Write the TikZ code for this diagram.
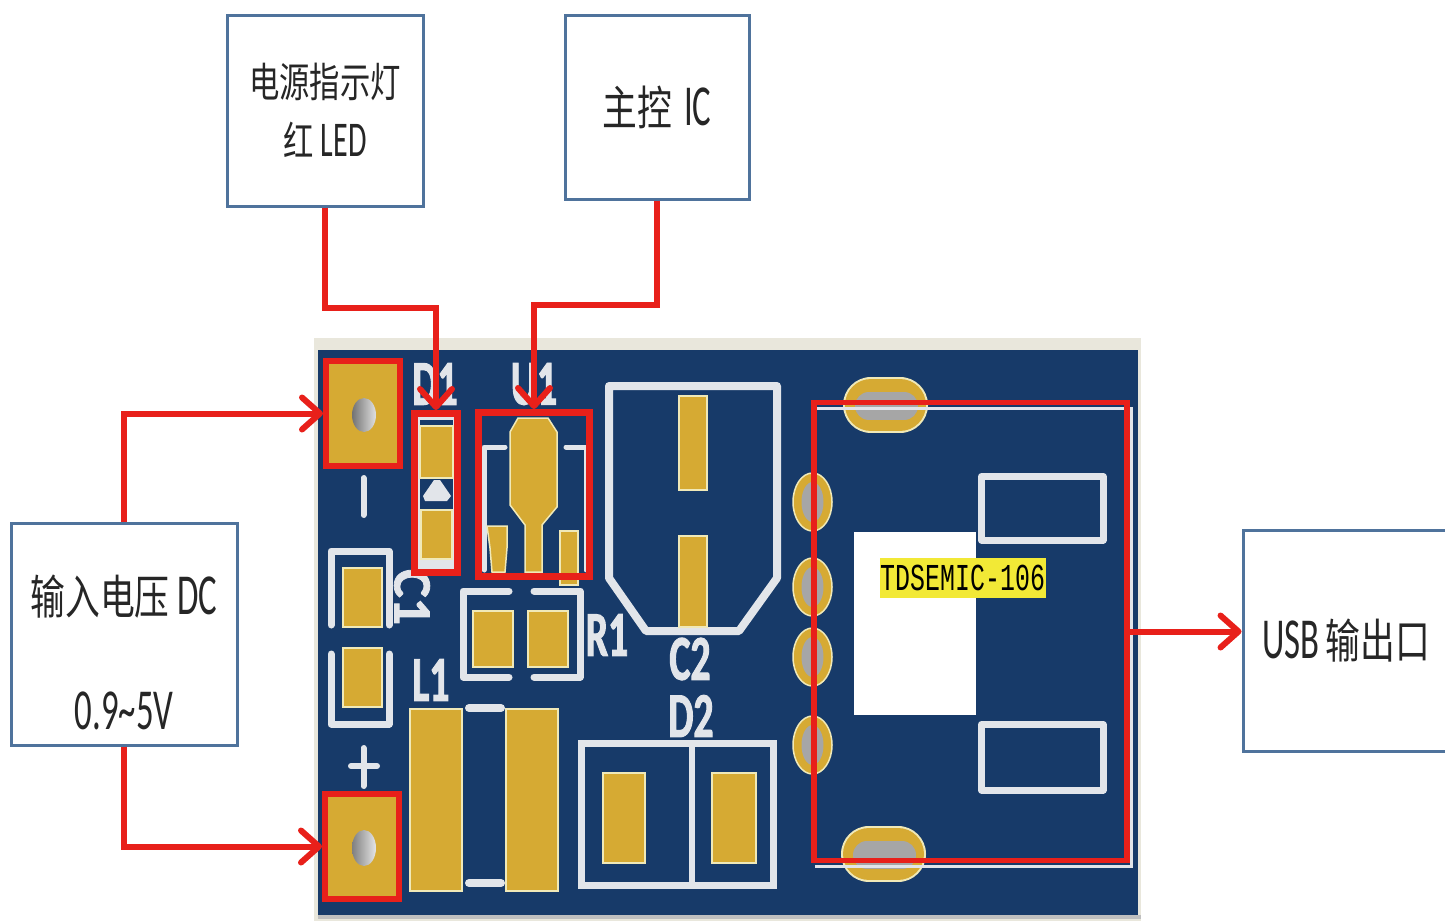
\documentclass[tikz,border=0pt]{standalone}
\usepackage{fontspec}
\usetikzlibrary{arrows.meta}
\newfontfamily\cjkf[FakeStretch=0.74]{Noto Sans CJK SC}
\newfontfamily\latf[FakeStretch=0.6]{Carlito}
\newfontfamily\silkf[FakeStretch=0.62,FakeBold=1.5]{Carlito Bold}
\newfontfamily\silkw[FakeBold=1.5]{Carlito Bold}
\newfontfamily\monof[FakeStretch=0.655]{Liberation Mono}
\definecolor{pcb}{HTML}{173A69}
\definecolor{gold}{HTML}{D6AA33}
\definecolor{silk}{HTML}{E2E5EA}
\definecolor{cream}{HTML}{F0E9B8}
\definecolor{redline}{HTML}{E8201A}
\definecolor{boxline}{HTML}{4F739C}
\definecolor{hl}{HTML}{F2E936}
\definecolor{rim}{HTML}{E9E7DC}
\newcommand{\cjt}[1]{{\cjkf\fontsize{41pt}{48pt}\selectfont #1}}
\newcommand{\lat}[1]{{\latf\fontsize{50pt}{50pt}\selectfont #1}}
\newcommand{\cjb}[1]{{\cjkf\fontsize{47pt}{50pt}\selectfont #1}}
\newcommand{\latb}[1]{{\latf\fontsize{58pt}{58pt}\selectfont #1}}
\tikzset{
  note/.style={draw=boxline,line width=3pt,fill=white,inner sep=0pt,align=center,text=black!85},
  redframe/.style={draw=redline,inner sep=0pt},
  link/.style={draw=redline,line width=6pt},
  arrowlink/.style={link,-{Straight Barb[length=18pt,width=32pt,line width=6pt,round]}},
  silkline/.style={draw=silk,line width=7pt,line cap=round,line join=round},
  silktext/.style={text=silk,inner sep=0pt,font=\silkf\fontsize{64pt}{64pt}\selectfont},
  padfill/.style={fill=gold,draw=cream,line width=1.5pt},
}
\begin{document}
\begin{tikzpicture}[x=1pt,y=-1pt]
\useasboundingbox (0,0) rectangle (1445,921);
\clip (0,0) rectangle (1445,921);
\fill[white] (0,0) rectangle (1445,921);
% board
\fill[rim] (314,338) rectangle (1141,921);
\fill[black!25] (318,915) rectangle (1141,919);
\fill[pcb] (318,350) rectangle (1138,915);
% silk: U1
\draw[silkline,line width=5pt] (505,447) -- (484,447) -- (484,570);
\draw[silkline,line width=5pt] (566,447) -- (586,447) -- (586,570);
% silk: D1
\draw[draw=silk,line width=3pt] (418,418) rectangle (454,568);
\fill[silk] (418,560) rectangle (454,568);
\fill[silk] (434,480) -- (440,480) -- (451,496) -- (447,501) -- (425,501) -- (423,496) -- cycle;
% silk: C1
\draw[silkline] (331,625) -- (331,551) -- (389,551) -- (389,625);
\draw[silkline] (331,654) -- (331,724) -- (389,724) -- (389,654);
% silk: minus and plus
\draw[silkline,line width=6pt] (363.5,478) -- (363.5,515);
\draw[silkline,line width=6pt] (363.5,748) -- (363.5,786);
\draw[silkline,line width=6pt] (351,766) -- (377,766);
% silk: R1
\draw[silkline] (509,591) -- (463,591) -- (463,677) -- (509,677);
\draw[silkline] (534,591) -- (580,591) -- (580,677) -- (534,677);
% silk: L1
\draw[silkline,line width=8pt] (469,708) -- (501,708);
\draw[silkline,line width=8pt] (469,883) -- (501,883);
% silk: C2
\draw[silkline,line width=8pt] (609,386) -- (777,386) -- (777,578) -- (739,631) -- (646,631) -- (609,578) -- cycle;
% silk: D2
\draw[draw=silk,line width=7pt] (581.5,743.5) rectangle (773.5,885.5);
\draw[draw=silk,line width=6pt] (692,743) -- (692,886);
\draw[silkline,line cap=butt] (981.5,476.5) rectangle (1103,540);
\draw[silkline,line cap=butt] (981.5,724.5) rectangle (1103,790);
% silk labels
\node[silktext] (lbD1) at (435,384) {D1};
\node[silktext] (lbU1) at (534,384) {U1};
\node[silktext] (lbR1) at (607,635) {R1};
\node[silktext] (lbC2) at (690,659) {C2};
\node[silktext] (lbD2) at (691,716) {D2};
\node[silktext] (lbL1) at (431,680) {L1};
\node[text=silk,inner sep=0pt,rotate=-90,font=\silkw\fontsize{54pt}{54pt}\selectfont] (lbC1) at (412,597) {C1};
% gold pads
\fill[gold] (326,361) rectangle (400,466);
\fill[gold] (325,794) rectangle (399,899);
\shade[left color=black!55,right color=black!12] (364,415) ellipse (12pt and 17pt);
\shade[left color=black!50,right color=black!10] (364,848) ellipse (12pt and 18pt);
\fill[padfill] (420,426) rectangle (453,478);
\fill[padfill] (421,510) rectangle (452,559);
\fill[padfill] (518,418) -- (548,418) -- (557,432) -- (557,507) -- (542,525) -- (542,572) -- (525,572) -- (525,525) -- (510,505) -- (510,432) -- cycle;
\fill[padfill] (487,526) -- (507,526) -- (507,548) -- (505,572) -- (492,572) -- (490,548) -- cycle;
\fill[padfill] (560,531) rectangle (578,585);
\fill[padfill] (343,568) rectangle (382,627);
\fill[padfill] (343,648) rectangle (382,707);
\fill[padfill] (473,611) rectangle (513,667);
\fill[padfill] (528,611) rectangle (568,667);
\fill[padfill] (410,709) rectangle (462,891);
\fill[padfill] (506,709) rectangle (558,891);
\fill[padfill] (603,773) rectangle (645,863);
\fill[padfill] (712,773) rectangle (756,863);
\fill[padfill] (679,396) rectangle (707,490);
\fill[padfill] (679,536) rectangle (707,627);
% slots and side holes
\draw[cream,line width=56pt,line cap=round] (871,405) -- (900,405);
\draw[gold,line width=52pt,line cap=round] (871,405) -- (900,405);
\draw[black!35,line width=28pt,line cap=round] (869,406) -- (904,406);
\draw[cream,line width=56pt,line cap=round] (869,854) -- (898,854);
\draw[gold,line width=52pt,line cap=round] (869,854) -- (898,854);
\draw[black!35,line width=28pt,line cap=round] (867,855) -- (902,855);
\foreach \hy in {502,587,657,745}{
  \fill[gold,draw=cream,line width=1.5pt] (812.5,\hy) ellipse (19.5pt and 29pt);
  \fill[black!35] (812.5,\hy) ellipse (11pt and 20pt);
}
% silk: connector outline, over the slots
\draw[draw=silk,line width=3pt] (815,408.5) -- (1131,408.5) -- (1131,866) -- (815,866);
% module mark
\fill[white] (853.5,532) rectangle (976,715);
\node[fill=hl,inner sep=0pt,minimum width=166pt,minimum height=40pt,text=black] (mark) at (963,578) {\monof\fontsize{38pt}{38pt}\selectfont TDSEMIC-106};
% red target frames
\node[redframe,line width=6pt,minimum width=74pt,minimum height=105pt] (pad1) at (363,413.5) {};
\node[redframe,line width=6pt,minimum width=74pt,minimum height=105pt] (pad2) at (362,846.5) {};
\node[redframe,line width=7pt,minimum width=43pt,minimum height=159pt] (d1) at (436,493) {};
\node[redframe,line width=7pt,minimum width=111pt,minimum height=164pt] (u1) at (534,494.5) {};
\node[redframe,line width=5.5pt,minimum width=313pt,minimum height=458pt] (usbzone) at (970.5,631.5) {};
% notes
\node[note,minimum width=196pt,minimum height=191pt] (led) at (325,110.5) {\cjt{电源指示灯}\\[20pt]\cjt{红}\hspace{7pt}\lat{LED}};
\node[note,minimum width=184pt,minimum height=184pt,text height=42pt,text depth=6pt] (ic) at (657,107) {\cjb{主控}\hspace{12pt}\latb{IC}};
\node[note,minimum width=226pt,minimum height=222pt] (dc) at (124,634) {\rule{0pt}{76pt}\cjb{输入电压}\hspace{8pt}\latb{DC}\\[73pt]\latb{0.9\textasciitilde 5V}};
\node[note,minimum width=206pt,minimum height=221pt] (usb) at (1346,640.5) {\latb{USB}\hspace{6pt}\cjb{输出口}};
% connectors
\coordinate (ledbend) at (436,308);
\coordinate (icbend) at (534,305);
\draw[arrowlink] (led.south) |- (ledbend) -- (d1.north);
\draw[arrowlink] (ic.south) |- (icbend) -- (u1.north);
\draw[arrowlink] (dc.north) |- (pad1.west);
\draw[arrowlink] (dc.south) |- (pad2.west);
\draw[arrowlink] (usbzone.east) -- (usbzone.east -| usb.west);
\end{tikzpicture}
\end{document}
